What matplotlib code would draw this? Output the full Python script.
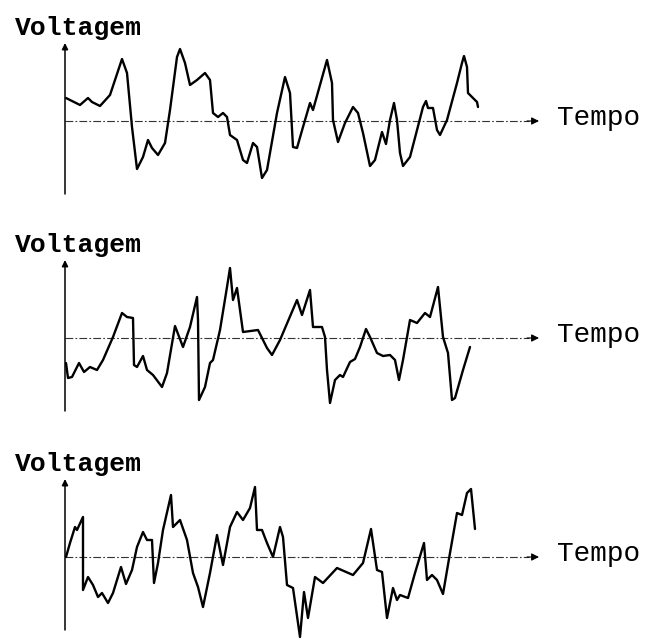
import matplotlib.pyplot as plt

# three traces of voltage vs time (time and voltage in drawing units)
t1 = [1, 15, 23, 27, 35, 45, 57, 62, 67, 72, 78, 83, 87, 93, 100, 105, 112, 115, 120, 125,
      132, 140, 145, 148, 153, 158, 162, 165, 172, 178, 182, 188, 192, 197, 202, 212, 220,
      225, 228, 232, 238, 245, 248, 262, 267, 268, 273, 280, 288, 293, 298, 305, 310, 317,
      321, 325, 329, 332, 335, 338, 345, 358, 361, 363, 368, 372, 375, 382, 392, 397, 399,
      402, 403, 408, 412, 413]
v1 = [23, 16, 23, 19, 15, 26, 62, 48, -6, -48, -36, -19, -27, -34, -22, 11, 64, 72, 58, 36,
      41, 48, 41, 8, 4, 8, 4, -14, -19, -39, -42, -22, -26, -57, -49, 8, 44,
      28, -26, -27, -6, 18, 11, 61, 38, 1, -21, -2, 14, 8, -12, -45, -39, -11,
      -23, 1, 18, 1, -32, -45, -36, 14, 20, 13, 13, -9, -14, 1, 38, 58, 65,
      54, 28, 23, 19, 14]

t2 = [1, 3, 7, 14, 19, 25, 32, 38, 48, 57, 62, 68, 69, 72, 78, 82, 88, 97, 102, 110, 118,
      125, 132, 133, 134, 140, 145, 148, 155, 162, 165, 168, 172, 178, 193, 202, 207, 215,
      232, 237, 245, 248, 257, 260, 262, 265, 270, 275, 278, 285, 290, 295, 301, 305, 312,
      318, 325, 330, 334, 338, 345, 352, 360, 365, 373, 375, 378, 383, 387, 390, 398, 405]
v2 = [-25, -40, -39, -25, -34, -29, -32, -22, 1, 25, 21, 20, -27, -29, -18, -32, -37, -49, -35, 12, -9,
      11, 41, 18, -62, -49, -25, -22, 8, 51, 70, 38, 50, 6, 8, -10, -17, -2,
      38, 23, 48, 11, 11, 1, -32, -65, -42, -37, -39, -24, -21, -9, 9, 1, -15,
      -18, -17, -22, -42, -22, 18, 15, 25, 21, 51, 31, 1, -15, -62, -60, -32, -9]

t3 = [1, 5, 10, 12, 18, 18, 23, 28, 33, 37, 43, 48, 56, 61, 67, 72, 78, 82, 87, 89, 93, 98,
      106, 108, 115, 122, 128, 133, 138, 145, 152, 158, 165, 172, 178, 185, 190, 192, 197,
      202, 208, 215, 218, 222, 228, 235, 239, 243, 250, 258, 272, 288, 298, 306, 312, 317,
      322, 328, 332, 335, 343, 350, 359, 362, 367, 372, 378, 385, 392, 397, 402, 406, 410]
v3 = [0, 14, 30, 27, 40, -33, -20, -28, -40, -36, -46, -36, -10, -27, -13, 10, 25, 17, 17, -26, -6, 27,
      62, 30, 37, 17, -16, -30, -50, -16, 22, -8, 30, 45, 37, 49, 70, 27, 27,
      14, 0, 30, 20, -28, -31, -80, -35, -61, -20, -26, -11, -18, -6, 28, -13, -15,
      -61, -31, -43, -38, -41, -16, 14, -23, -18, -23, -37, 4, 44, 42, 64, 68, 28]

traces = [(t1, v1), (t2, v2), (t3, v3)]
y_label = "Voltagem"
x_label = "Tempo"

fig = plt.figure(figsize=(6.52, 6.39), dpi=100)

# zero line of each panel, in pixels from the top of the picture
zero_rows = [121, 338, 557]

for (t, v), row in zip(traces, zero_rows):
    bottom = (639 - row - 95) / 639
    ax = fig.add_axes([0, bottom, 1, 190 / 639])
    ax.set_xlim(-65, 587)
    ax.set_ylim(-95, 95)
    ax.axis('off')

    # vertical axis with arrow
    ax.annotate('', xy=(0, 78), xytext=(0, -73),
                arrowprops=dict(arrowstyle='-|>', lw=1.1, color='black',
                                mutation_scale=9, shrinkA=0, shrinkB=0))
    # dash-dot time axis with arrow
    ax.plot([0, 464], [0, 0], color='#333333', lw=0.8, dashes=(7, 2, 1.5, 2))
    ax.annotate('', xy=(474, 0), xytext=(462, 0),
                arrowprops=dict(arrowstyle='-|>', lw=0.8, color='black',
                                mutation_scale=11, shrinkA=0, shrinkB=0))

    ax.plot(t, v, color='black', lw=1.7, solid_joinstyle='round', solid_capstyle='round')

    ax.text(-50, 86, y_label, fontsize=19, fontweight='bold', family='Liberation Mono',
            ha='left', va='baseline', clip_on=False)
    ax.text(492, -4, x_label, fontsize=20, family='Liberation Mono',
            ha='left', va='baseline', clip_on=False)

fig.savefig('out.png', dpi=100)
